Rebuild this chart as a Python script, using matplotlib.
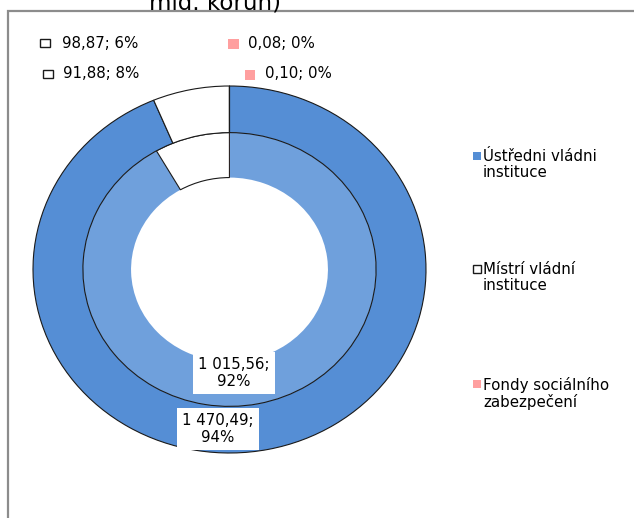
#!/usr/bin/env python3
"""plot.py - dvojitý prstencový graf (mld. korun)"""

import matplotlib.pyplot as plt
from matplotlib.patches import Rectangle

categories = ["Ústředni vládni\ninstituce", "Místrí vládní\ninstituce",
              "Fondy sociálního\nzabezpečení"]
outer_values = [1470.49, 98.87, 0.08]
inner_values = [1015.56, 91.88, 0.10]

outer_colors = ["#558ED5", "white", "#FF9F9F"]
inner_colors = ["#6FA0DC", "white", "#FF9F9F"]
key_edges = ["none", "#1a1a1a", "none"]

W, H = 634, 518


def fx(x):
    return x / W


def fy(y):
    # pixel row measured from the top -> figure fraction
    return 1 - y / H


def label_text(value, values, sep=" "):
    num = f"{value:,.2f}".replace(",", " ").replace(".", ",")
    pct = round(value / sum(values) * 100)
    return f"{num};{sep}{pct}%"


def key(fig, x0, y0, x1, y1, color, edge):
    fig.patches.append(Rectangle((fx(x0), fy(y1)), fx(x1) - fx(x0),
                                 fy(y0) - fy(y1), transform=fig.transFigure,
                                 facecolor=color, edgecolor=edge,
                                 linewidth=1.0))


def main():
    plt.rcParams["font.family"] = ["DejaVu Sans"]
    fig = plt.figure(figsize=(6.34, 5.18), dpi=100)

    # the ring is a little wider than tall, like the original
    cx, cy, rx, ry = 229.5, 269.5, 196.5, 183.5
    ax = fig.add_axes([fx(cx - 1.1 * rx), fy(cy + 1.1 * ry),
                       2.2 * rx / W, 2.2 * ry / H])

    inner_wedges, _ = ax.pie(inner_values, radius=0.746, startangle=90,
                             counterclock=False, colors=inner_colors,
                             wedgeprops=dict(width=0.245, edgecolor="none"))
    inner_wedges[1].set_edgecolor("#1a1a1a")
    inner_wedges[1].set_linewidth(0.8)
    ax.pie(outer_values, radius=1.0, startangle=90, counterclock=False,
           colors=outer_colors,
           wedgeprops=dict(width=0.254, edgecolor="#1a1a1a", linewidth=0.8))
    ax.set_aspect("auto")
    ax.set_xlim(-1.1, 1.1)
    ax.set_ylim(-1.1, 1.1)
    ax.axis("off")

    fs = 10.8
    box = dict(facecolor="white", edgecolor="none", pad=3.5)

    # data labels of the big slices
    fig.text(fx(218), fy(429), label_text(outer_values[0], outer_values, "\n"),
             ha="center", va="center", fontsize=fs, linespacing=1.12, bbox=box)
    fig.text(fx(234), fy(373), label_text(inner_values[0], inner_values, "\n"),
             ha="center", va="center", fontsize=fs, linespacing=1.12, bbox=box)
    key(fig, 178, 360, 187, 368, inner_colors[0], "none")

    # data labels of the small slices
    fig.text(fx(62), fy(43), label_text(outer_values[1], outer_values),
             ha="left", va="center", fontsize=fs)
    key(fig, 40, 39, 50, 47, outer_colors[1], "#1a1a1a")
    fig.text(fx(248), fy(44), label_text(outer_values[2], outer_values),
             ha="left", va="center", fontsize=fs)
    key(fig, 228, 39, 239, 49, outer_colors[2], "none")
    fig.text(fx(63), fy(74), label_text(inner_values[1], inner_values),
             ha="left", va="center", fontsize=fs)
    key(fig, 43, 70, 53, 78, inner_colors[1], "#1a1a1a")
    fig.text(fx(265), fy(74), label_text(inner_values[2], inner_values),
             ha="left", va="center", fontsize=fs)
    key(fig, 245, 70, 255, 80, inner_colors[2], "none")

    # legend on the right
    legend_rows = [157, 270, 385]
    for label, color, edge, y in zip(categories, outer_colors, key_edges,
                                     legend_rows):
        key(fig, 473, y - 5, 481, y + 3, color, edge)
        fig.text(fx(483), fy(y - 8), label, ha="left", va="top",
                 fontsize=fs, linespacing=1.08)

    # cut-off title and chart frame
    fig.text(fx(215), fy(10), "mld. korun)", ha="center", va="baseline",
             fontsize=16.5)
    fig.patches.append(Rectangle((fx(8), -0.1), 1.0, fy(11) + 0.1,
                                 transform=fig.transFigure, fill=False,
                                 edgecolor="#8c8c8c", linewidth=1.6))

    fig.savefig("out.png", dpi=100)


if __name__ == "__main__":
    main()
